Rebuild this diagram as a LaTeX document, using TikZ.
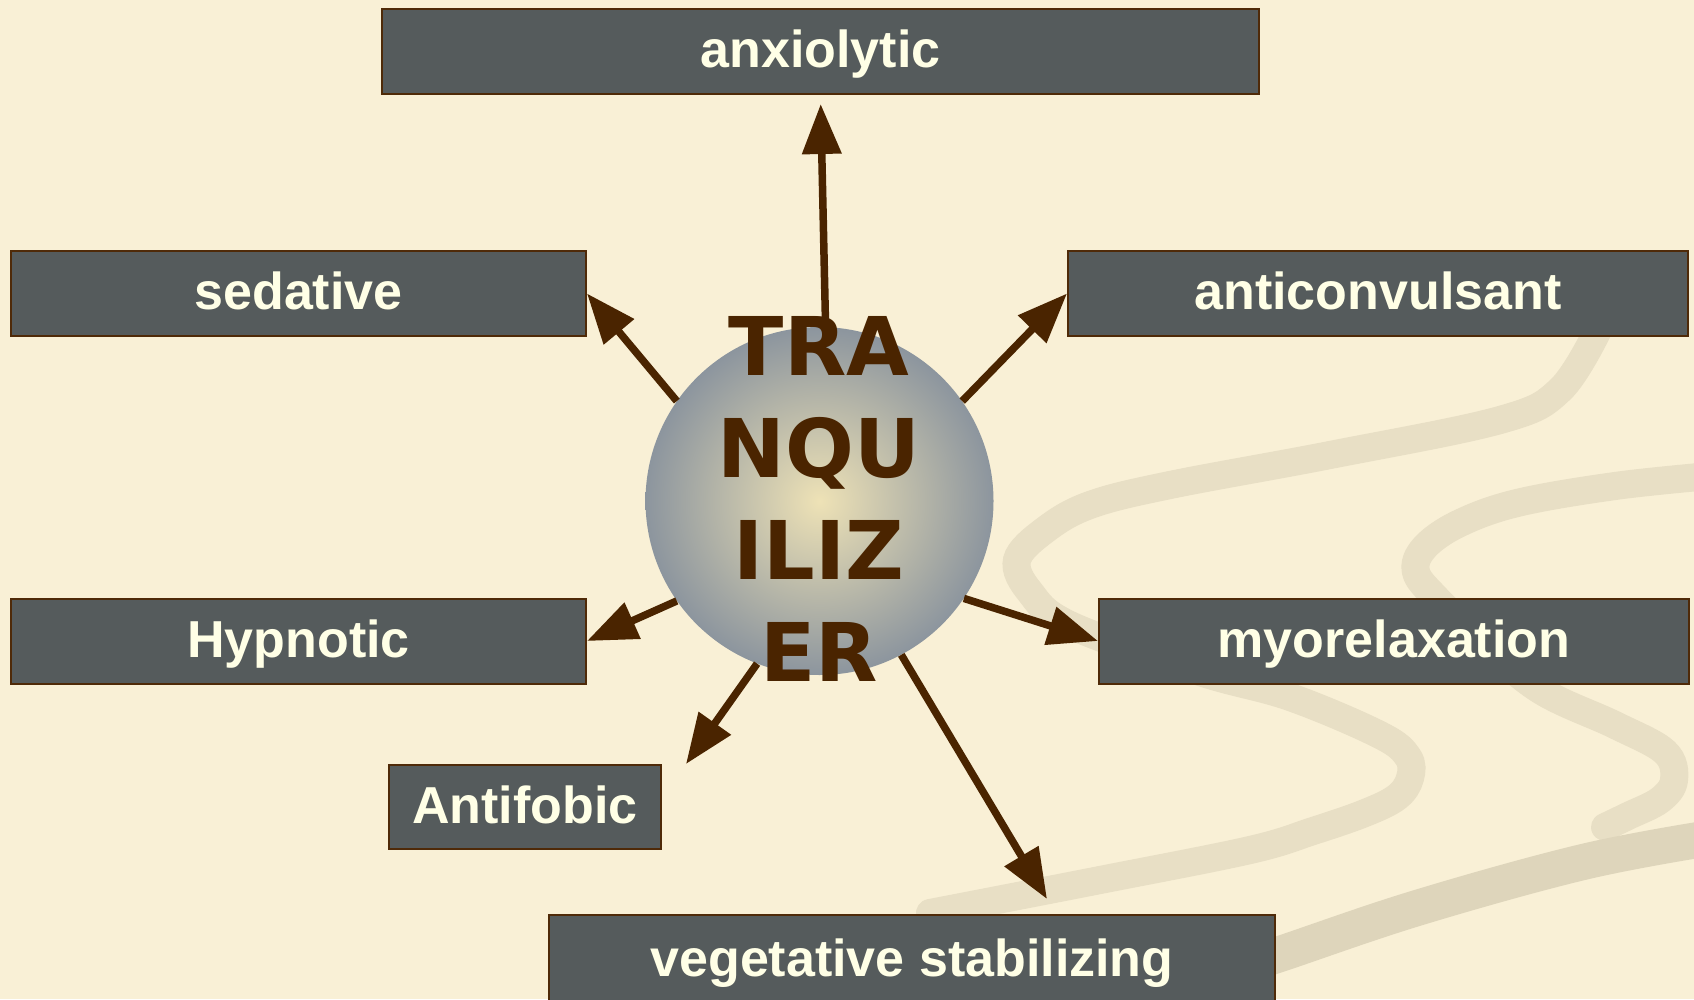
\documentclass[tikz,border=0pt]{standalone}
\usepackage{fontspec}
\setmainfont{Liberation Sans}
\newfontfamily\verd{DejaVu Sans}
\usetikzlibrary{arrows.meta}
\definecolor{bg}{HTML}{F9F0D6}
\definecolor{boxfill}{HTML}{555B5C}
\definecolor{boxline}{HTML}{4F2A08}
\definecolor{txt}{HTML}{FFFFE6}
\definecolor{arrbrown}{HTML}{4A2400}
\definecolor{ribbon}{HTML}{E8DFC5}
\definecolor{ribbondk}{HTML}{DED5BB}
\definecolor{sphin}{HTML}{EEE2B6}
\definecolor{sphout}{HTML}{8C959E}
\tikzset{
  lbl/.style={draw=boxline, line width=2pt, fill=boxfill, text=txt,
    font=\bfseries\fontsize{52}{60}\selectfont, inner sep=0pt, minimum height=85pt,
    text height=40pt, text depth=8pt},
  arr/.style={draw=arrbrown, line width=7.5pt, -{Triangle[length=50pt,width=38pt]}},
  rib/.style={draw=ribbon, line width=28pt, line cap=round},
}
\begin{document}
\begin{tikzpicture}[x=1pt,y=-1pt]
\useasboundingbox (0,0) rectangle (1694,999);
\clip (0,0) rectangle (1694,999);
\fill[bg] (0,0) rectangle (1694,999);
% background ribbons
\draw[rib] plot[smooth, tension=0.6] coordinates {(1598,330) (1560,390) (1500,420) (1330,455) (1170,485) (1090,505) (1045,530) (1017,560) (1030,592) (1070,625) (1200,672) (1290,697) (1380,735) (1408,757) (1410,778) (1397,797) (1365,813) (1313,831) (1250,850) (1100,880) (930,913)};
\draw[rib] plot[smooth, tension=0.6] coordinates {(1710,476) (1615,486) (1517,503) (1458,524) (1424,548) (1416,572) (1436,598) (1480,640) (1540,690) (1615,725) (1665,752) (1674,780) (1660,800) (1628,816) (1605,827)};
\draw[rib, draw=ribbondk, line width=36pt] plot[smooth, tension=0.6] coordinates {(1710,838) (1583,862) (1417,908) (1277,955) (1200,980)};
% boxes
\node[lbl, minimum width=877pt] (anx) at (820.5,51.5) {anxiolytic};
\node[lbl, minimum width=575pt] (sed) at (298.5,293.5) {sedative};
\node[lbl, minimum width=620pt] (acv) at (1378,293.5) {anticonvulsant};
\node[lbl, minimum width=575pt] (hyp) at (298.5,641) {Hypnotic};
\node[lbl, minimum width=590pt] (myo) at (1394,641) {myorelaxation};
\node[lbl, minimum width=272pt, minimum height=84pt] (afb) at (525,807) {Antifobic};
\node[lbl, minimum width=726pt, minimum height=90pt] (veg) at (912,960) {vegetative stabilizing};
% centre
\node[circle, minimum size=348pt, inner sep=0pt, shade, inner color=sphin, outer color=sphout] (circ) at (819.5,501) {};
\coordinate (afbtip) at (686,764);
\coordinate (vegtip) at (1047,899);
\draw[arr, shorten >=9pt] (circ.88) -- (anx.south);
\draw[arr] (circ.145) -- (sed.east);
\draw[arr] (circ.35) -- (acv.west);
\draw[arr] (circ.215) -- (hyp.east);
\draw[arr] (circ.326) -- (myo.west);
\draw[arr] (circ.249) -- (afbtip);
\draw[arr] (circ.298) -- (vegtip);
\node[anchor=north, inner sep=0pt, align=center, text=arrbrown,
  font=\verd\bfseries\fontsize{81}{102}\selectfont] (title) at (819,316) {TRA\\NQU\\ILIZ\\ER};
\end{tikzpicture}
\end{document}
